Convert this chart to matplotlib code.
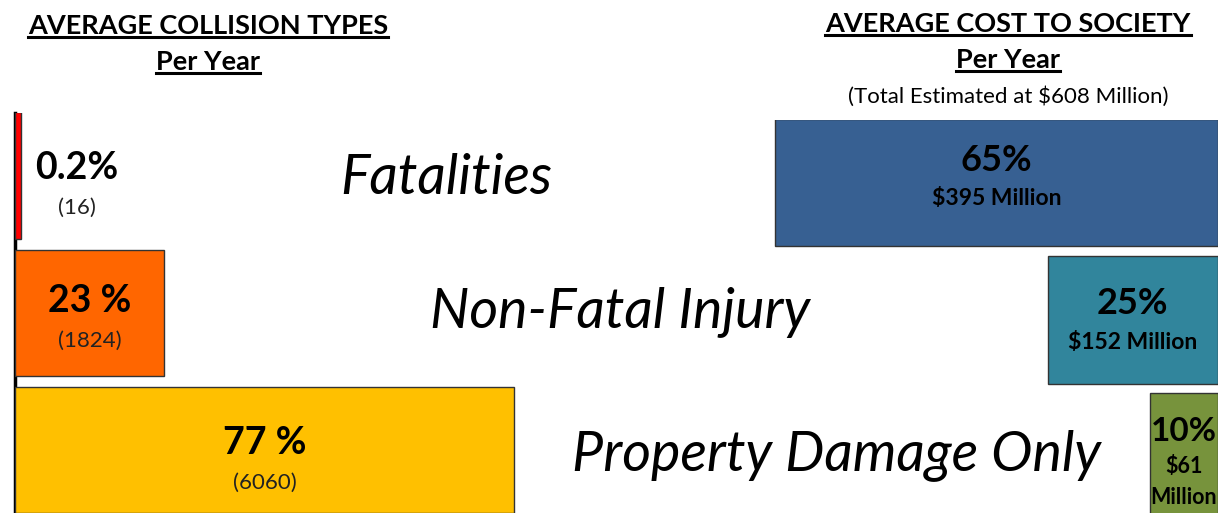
import matplotlib
matplotlib.use("Agg")
import matplotlib.pyplot as plt
from matplotlib.lines import Line2D

plt.rcParams['font.family'] = ['Lato', 'DejaVu Sans']

# ---- data ----
categories = ["Fatalities", "Non-Fatal Injury", "Property Damage Only"]
collision_pct = [0.2, 23, 77]
collision_pct_labels = ["0.2%", "23 %", "77 %"]
collision_counts = [16, 1824, 6060]
cost_pct = [65, 25, 10]
cost_pct_labels = ["65%", "25%", "10%"]
cost_millions = [395, 152, 61]
total_cost = 608

left_colors = ["#FF0000", "#FF6600", "#FFC000"]
right_colors = ["#376092", "#31859C", "#77933C"]

MIN_VISIBLE = 0.9  # smallest drawn bar length (in %) so the tiny bar stays visible

W, H = 1218, 513
fig = plt.figure(figsize=(W / 100, H / 100), dpi=100)
fig.patch.set_facecolor("white")

rows = [2, 1, 0]
YLIM = (-0.46, 2.456)
ROWPX = 137.0

def px2fig(x, y):
    return x / W, 1 - y / H

# left axes: 0..100 % spans ~648 px starting at x=15
axL = fig.add_axes([15 / W, 0, 648 / W, 400 / H])
axL.set_xlim(0, 100)
axL.set_ylim(*YLIM)
drawn = [max(v, MIN_VISIBLE) for v in collision_pct]
axL.barh(rows, drawn, height=0.92, color=left_colors,
         edgecolor="#333333", linewidth=1.0, align="center", zorder=1)
axL.set_xticks([]); axL.set_yticks([])
for s in ["top", "right", "bottom"]:
    axL.spines[s].set_visible(False)
axL.spines["left"].set_linewidth(2.5)
axL.spines["left"].set_color("black")
axL.spines["left"].set_zorder(0.5)
axL.patch.set_alpha(0)

for i, (r, p, pl, c) in enumerate(zip(rows, collision_pct, collision_pct_labels, collision_counts)):
    if p < 5:
        xc = p + 9.3
        y1 = r + 8 / ROWPX
        y2 = r - 32 / ROWPX
    else:
        xc = p / 2
        y1 = r + (12 if i == 1 else 7) / ROWPX
        y2 = r - (28 if i == 1 else 33) / ROWPX
    axL.text(xc, y1, pl, ha="center", va="center", fontsize=27, fontweight="bold", color="black")
    axL.text(xc, y2, f"({c})", ha="center", va="center", fontsize=16, color="#222222")

# right axes: 0..100 % spans 681 px, anchored at right edge, inverted
axR = fig.add_axes([(W - 681) / W, -7 / H, 681 / W, 400 / H])
axR.set_xlim(100, 0)
axR.set_ylim(*YLIM)
axR.barh(rows, cost_pct, height=0.93, color=right_colors,
         edgecolor="#333333", linewidth=1.0, align="center")
axR.set_xticks([]); axR.set_yticks([])
for s in axR.spines.values():
    s.set_visible(False)
axR.patch.set_alpha(0)

for i, (r, p, pl, m) in enumerate(zip(rows, cost_pct, cost_pct_labels, cost_millions)):
    xc = p / 2
    if i == 0:
        axR.text(xc, r + 22 / ROWPX, pl, ha="center", va="center", fontsize=26, fontweight="bold")
        axR.text(xc, r - 16 / ROWPX, f"${m} Million", ha="center", va="center", fontsize=16.5, fontweight="bold")
    elif i == 1:
        axR.text(xc, r + 16 / ROWPX, pl, ha="center", va="center", fontsize=26, fontweight="bold")
        axR.text(xc, r - 23 / ROWPX, f"${m} Million", ha="center", va="center", fontsize=16.5, fontweight="bold")
    else:
        axR.text(xc, r + 25 / ROWPX, pl, ha="center", va="center", fontsize=24, fontweight="bold")
        axR.text(xc, r - 10 / ROWPX, f"${m}", ha="center", va="center", fontsize=15.5, fontweight="bold")
        axR.text(xc, r - 41 / ROWPX, "Million", ha="center", va="center", fontsize=15.5, fontweight="bold")

# category labels
cat_pos = [(446, 178), (620, 313), (837, 455)]
for cat, (x, y) in zip(categories, cat_pos):
    fx, fy = px2fig(x, y)
    fig.text(fx, fy, cat, ha="center", va="center", fontsize=40, fontstyle="italic", color="black")

# headers
underlined = []
t = fig.text(*px2fig(208, 26), "AVERAGE COLLISION TYPES", ha="center", va="center", fontsize=19.5, fontweight="bold")
underlined.append(t)
t = fig.text(*px2fig(208, 62), "Per Year", ha="center", va="center", fontsize=19.5, fontweight="bold")
underlined.append(t)
t = fig.text(*px2fig(1008, 24), "AVERAGE COST TO SOCIETY", ha="center", va="center", fontsize=19.5, fontweight="bold")
underlined.append(t)
t = fig.text(*px2fig(1008, 60), "Per Year", ha="center", va="center", fontsize=19.5, fontweight="bold")
underlined.append(t)
fig.text(*px2fig(1008, 97), f"(Total Estimated at ${total_cost} Million)", ha="center", va="center", fontsize=16)

fig.canvas.draw()
renderer = fig.canvas.get_renderer()
for t in underlined:
    bb = t.get_window_extent(renderer)
    y = (bb.y0 + 1) / fig.bbox.height
    fig.add_artist(Line2D([bb.x0 / fig.bbox.width, bb.x1 / fig.bbox.width], [y, y],
                          transform=fig.transFigure, color="black", linewidth=2.2))

fig.savefig("out.png", dpi=100, facecolor="white")
